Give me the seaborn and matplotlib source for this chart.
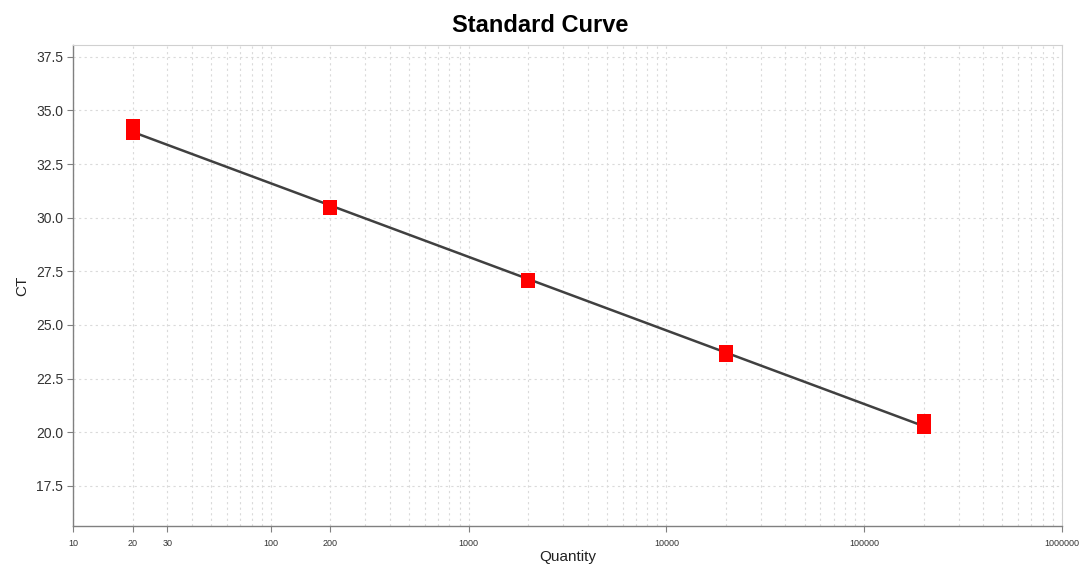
import numpy as np
import pandas as pd
import matplotlib
matplotlib.use("Agg")
import matplotlib.pyplot as plt
import seaborn as sns
from matplotlib.ticker import FixedLocator, LogLocator, NullFormatter, FixedFormatter

# ---- data ----
quantity = [20, 20, 200, 200, 2000, 2000, 20000, 20000, 200000, 200000]
ct_values = [34.28, 33.95, 30.50, 30.45, 27.10, 27.05, 23.75, 23.60, 20.51, 20.23]
x_tick_values = [10, 20, 30, 100, 200, 1000, 10000, 100000, 1000000]
x_tick_labels = ["10", "20", "30", "100", "200", "1000", "10000", "100000", "1000000"]
y_tick_values = [17.5, 20.0, 22.5, 25.0, 27.5, 30.0, 32.5, 35.0, 37.5]

df = pd.DataFrame({"Quantity": quantity, "CT": ct_values})

# fitted standard curve (linear in log10 quantity)
slope, intercept = np.polyfit(np.log10(df["Quantity"]), df["CT"], 1)
fit_x = np.array([min(quantity), max(quantity)], dtype=float)
fit_df = pd.DataFrame({"Quantity": fit_x, "CT": slope * np.log10(fit_x) + intercept})

sns.set_theme(style="white")
plt.rcParams["font.family"] = ["Liberation Sans", "DejaVu Sans"]

fig = plt.figure(figsize=(10.82, 5.69), dpi=100)
ax = fig.add_axes([73 / 1082, 1 - 526 / 569, (1062 - 73) / 1082, (526 - 45) / 569])

ax.set_xscale("log")
sns.lineplot(data=fit_df, x="Quantity", y="CT", ax=ax, color="#404040", linewidth=1.8, zorder=3)
sns.scatterplot(data=df, x="Quantity", y="CT", ax=ax, marker="s", s=110, color="#ff0000",
                edgecolor="#ff0000", linewidth=0, zorder=4)

ax.set_xlim(10, 1000000)
ax.set_ylim(15.63, 38.05)

ax.xaxis.set_major_locator(FixedLocator(x_tick_values))
ax.xaxis.set_major_formatter(FixedFormatter(x_tick_labels))
ax.xaxis.set_minor_locator(LogLocator(base=10, subs=np.arange(2, 10)))
ax.xaxis.set_minor_formatter(NullFormatter())
ax.set_yticks(y_tick_values)
ax.set_yticklabels([f"{v:.1f}" for v in y_tick_values])

ax.grid(True, which="major", axis="both", color="#dadada", linestyle=(0, (2, 3)), linewidth=0.8)
ax.grid(True, which="minor", axis="x", color="#dadada", linestyle=(0, (2, 3)), linewidth=0.8)
ax.set_axisbelow(True)

ax.tick_params(axis="x", which="major", labelsize=6.5, length=4, width=0.8, color="#808080",
               labelcolor="#333333", pad=5, bottom=True)
ax.tick_params(axis="x", which="minor", length=0)
ax.tick_params(axis="y", which="major", labelsize=10, length=4, width=0.8, color="#808080",
               labelcolor="#333333", pad=3, left=True)

for side in ["left", "bottom"]:
    ax.spines[side].set_color("#808080")
    ax.spines[side].set_linewidth(1.0)
for side in ["top", "right"]:
    ax.spines[side].set_color("#d0d0d0")
    ax.spines[side].set_linewidth(0.8)

ax.set_xlabel("Quantity", fontsize=11, color="#222222", labelpad=2)
ax.set_ylabel("CT", fontsize=11, color="#222222", labelpad=5)
ax.set_title("Standard Curve", fontsize=17, fontweight="bold", color="#000000", pad=9,
             x=(540 - 73) / (1062 - 73))

fig.savefig("out.png", dpi=100)
